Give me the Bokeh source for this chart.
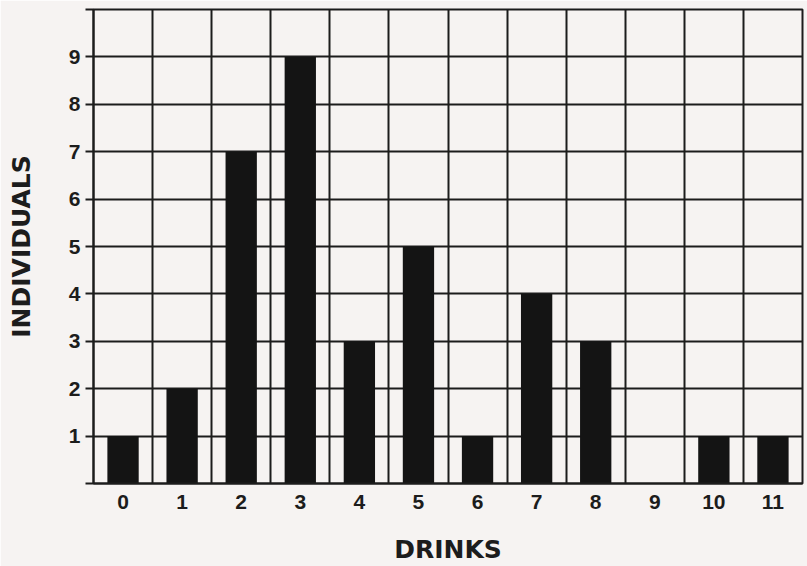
from bokeh.plotting import figure
from bokeh.models import FixedTicker, Range1d
from bokeh.embed import file_html
from bokeh.resources import INLINE

drinks = ["0", "1", "2", "3", "4", "5", "6", "7", "8", "9", "10", "11"]
individuals = [1, 2, 7, 9, 3, 5, 1, 4, 3, 0, 1, 1]
y_ticks = [0, 1, 2, 3, 4, 5, 6, 7, 8, 9, 10]

BG = "#f6f3f2"
INK = "#1c1c1c"
TICK_FONT = "Liberation Sans"
LABEL_FONT = "DejaVu Sans"

xs = list(range(len(drinks)))

p = figure(width=807, height=566, output_backend="svg", toolbar_location=None,
           x_range=Range1d(-0.5, len(drinks) - 0.5), y_range=Range1d(0, 10),
           min_border_left=93, min_border_right=5, min_border_top=9, min_border_bottom=78)
p.background_fill_color = BG
p.border_fill_color = BG
p.outline_line_color = INK
p.outline_line_width = 2

p.vbar(x=xs, top=individuals, width=0.53, fill_color="#141414", line_color=None)

# grid
p.xgrid.ticker = FixedTicker(ticks=[i - 0.5 for i in range(len(drinks) + 1)])
p.ygrid.ticker = FixedTicker(ticks=y_ticks)
for g in (p.xgrid, p.ygrid):
    g.grid_line_color = INK
    g.grid_line_width = 2
    g.grid_line_alpha = 1

# x axis
p.xaxis.ticker = FixedTicker(ticks=xs)
p.xaxis.major_label_overrides = {i: d for i, d in zip(xs, drinks)}
p.xaxis.major_tick_line_color = None
p.xaxis.minor_tick_line_color = None
p.xaxis.axis_line_color = INK
p.xaxis.axis_line_width = 2
p.xaxis.major_label_standoff = 5
p.xaxis.axis_label = "DRINKS"
p.xaxis.axis_label_standoff = 23

# y axis
p.yaxis.ticker = FixedTicker(ticks=y_ticks)
p.yaxis.major_label_overrides = {0: "", 10: ""}
p.yaxis.major_tick_out = 8
p.yaxis.major_tick_in = 0
p.yaxis.major_tick_line_color = INK
p.yaxis.major_tick_line_width = 2
p.yaxis.minor_tick_line_color = None
p.yaxis.axis_line_color = INK
p.yaxis.axis_line_width = 2
p.yaxis.major_label_standoff = 5
p.yaxis.axis_label = "INDIVIDUALS"
p.yaxis.axis_label_standoff = 30

for ax in (p.xaxis, p.yaxis):
    ax.major_label_text_font = TICK_FONT
    ax.major_label_text_font_style = "bold"
    ax.major_label_text_font_size = "21px"
    ax.major_label_text_color = INK
    ax.axis_label_text_font = LABEL_FONT
    ax.axis_label_text_font_style = "bold"
    ax.axis_label_text_font_size = "25px"
    ax.axis_label_text_color = INK

open("out.html", "w").write(file_html(p, INLINE))
